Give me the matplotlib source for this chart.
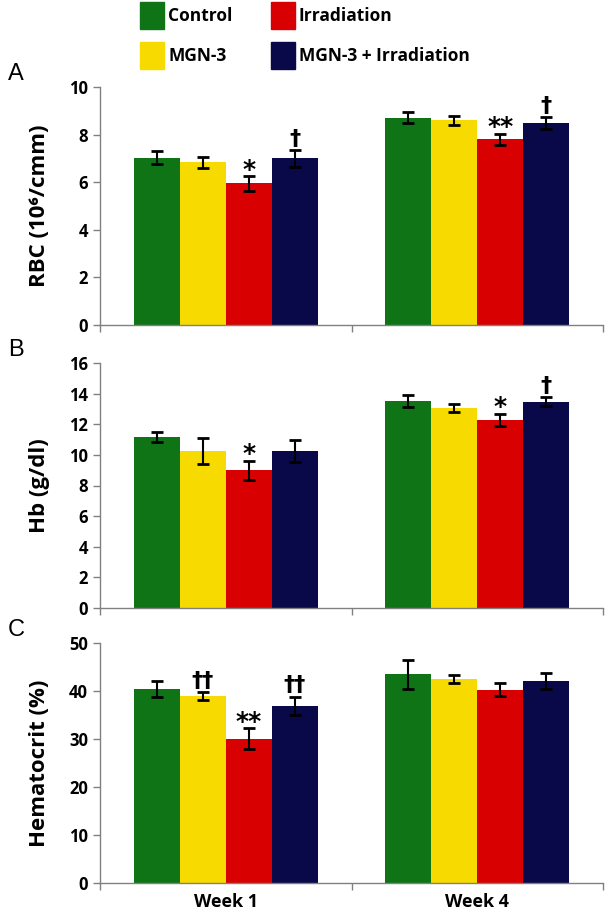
import matplotlib
matplotlib.use("Agg")
import matplotlib.pyplot as plt
import matplotlib.patches as patches
import numpy as np

# data
weeks = ["Week 1", "Week 4"]
groups = ["Control", "MGN-3", "Irradiation", "MGN-3 + Irradiation"]
colors = ["#0e7416", "#f7da00", "#d80000", "#09094a"]

rbc = [[7.03, 6.83, 5.95, 7.00], [8.71, 8.60, 7.80, 8.47]]
rbc_err = [[0.27, 0.23, 0.30, 0.35], [0.22, 0.20, 0.23, 0.25]]
rbc_marks = [["", "", "*", "†"], ["", "", "**", "†"]]

hb = [[11.17, 10.25, 9.01, 10.25], [13.52, 13.06, 12.30, 13.48]]
hb_err = [[0.30, 0.87, 0.62, 0.73], [0.40, 0.26, 0.40, 0.30]]
hb_marks = [["", "", "*", ""], ["", "", "*", "†"]]

hct = [[40.4, 38.96, 30.1, 36.9], [43.5, 42.5, 40.3, 42.1]]
hct_err = [[1.6, 0.85, 2.2, 1.9], [3.0, 0.8, 1.4, 1.7]]
hct_marks = [["", "††", "**", "††"], ["", "", "", ""]]

panels = [
    ("A", "RBC (10⁶/cmm)", rbc, rbc_err, rbc_marks, 10, 2),
    ("B", "Hb (g/dl)", hb, hb_err, hb_marks, 16, 2),
    ("C", "Hematocrit (%)", hct, hct_err, hct_marks, 50, 10),
]
# axes boxes in pixels: (top, bottom)
boxes = [(87, 325), (363, 608), (643, 883)]

W, H = 612, 916
plt.rcParams['font.family'] = ['Open Sans', 'DejaVu Sans']
fig = plt.figure(figsize=(W / 100, H / 100), dpi=100)

bw = 0.183
offs = (np.arange(4) - 1.5) * bw
x = np.arange(len(weeks))
axis_col = "#808080"

for (letter, ylab, vals, errs, marks, ymax, step), (top, bot) in zip(panels, boxes):
    ax = fig.add_axes([100 / W, 1 - bot / H, 503 / W, (bot - top) / H])
    vals = np.array(vals)
    errs = np.array(errs)
    for g in range(4):
        ax.bar(x + offs[g], vals[:, g], width=bw, color=colors[g], zorder=2)
        ax.errorbar(x + offs[g], vals[:, g], yerr=errs[:, g], fmt="none",
                    ecolor="black", elinewidth=1.5, capsize=4, capthick=2, zorder=3)
        for w in range(len(weeks)):
            m = marks[w][g]
            if m:
                y = vals[w, g] + errs[w, g]
                if "†" in m:
                    ax.annotate(m, (x[w] + offs[g], y), xytext=(0, 1), textcoords="offset points",
                                ha="center", va="bottom", fontsize=16, fontweight="bold",
                                family=["DejaVu Sans"])
                else:
                    ax.annotate(m, (x[w] + offs[g], y), xytext=(0, -4), textcoords="offset points",
                                ha="center", va="bottom", fontsize=18, fontweight="bold",
                                family=["DejaVu Sans"])
    ax.set_xlim(-0.5, 1.5)
    ax.set_ylim(0, ymax)
    ax.set_yticks(np.arange(0, ymax + 0.01, step))
    ax.tick_params(axis="y", labelsize=12, color=axis_col, length=5, width=1)
    for lab in ax.get_yticklabels():
        lab.set_fontweight("bold")
    ax.set_xticks([-0.5, 0.5, 1.5])
    ax.set_xticklabels([])
    ax.tick_params(axis="x", color=axis_col, length=5, width=1)
    if letter == "C":
        ax.set_xticks(x, minor=True)
        ax.set_xticklabels(weeks, minor=True, fontsize=13, fontweight="bold")
        ax.tick_params(axis="x", which="minor", length=0, pad=7)
    for s in ["top", "right"]:
        ax.spines[s].set_visible(False)
    for s in ["left", "bottom"]:
        ax.spines[s].set_color(axis_col)
        ax.spines[s].set_linewidth(1)
    ax.set_ylabel(ylab, fontsize=16, fontweight="bold")
    ax.yaxis.set_label_coords(-0.1, 0.5)
    fig.text(8 / W, 1 - (top - 13) / H, letter, fontsize=17, va="center", ha="left",
             family=["Liberation Sans"])

# legend drawn as squares and labels
leg_pos = [(140, 2), (140, 42), (271, 2), (271, 42)]
for (lx, ly), c, name in zip(leg_pos, colors, groups):
    fig.add_artist(patches.Rectangle((lx / W, 1 - (ly + 27) / H), 24 / W, 27 / H,
                                     transform=fig.transFigure, color=c))
    fig.text((lx + 28) / W, 1 - (ly + 14) / H, name, fontsize=12.5, fontweight="bold",
             va="center", ha="left")

fig.savefig("out.png", dpi=100)
